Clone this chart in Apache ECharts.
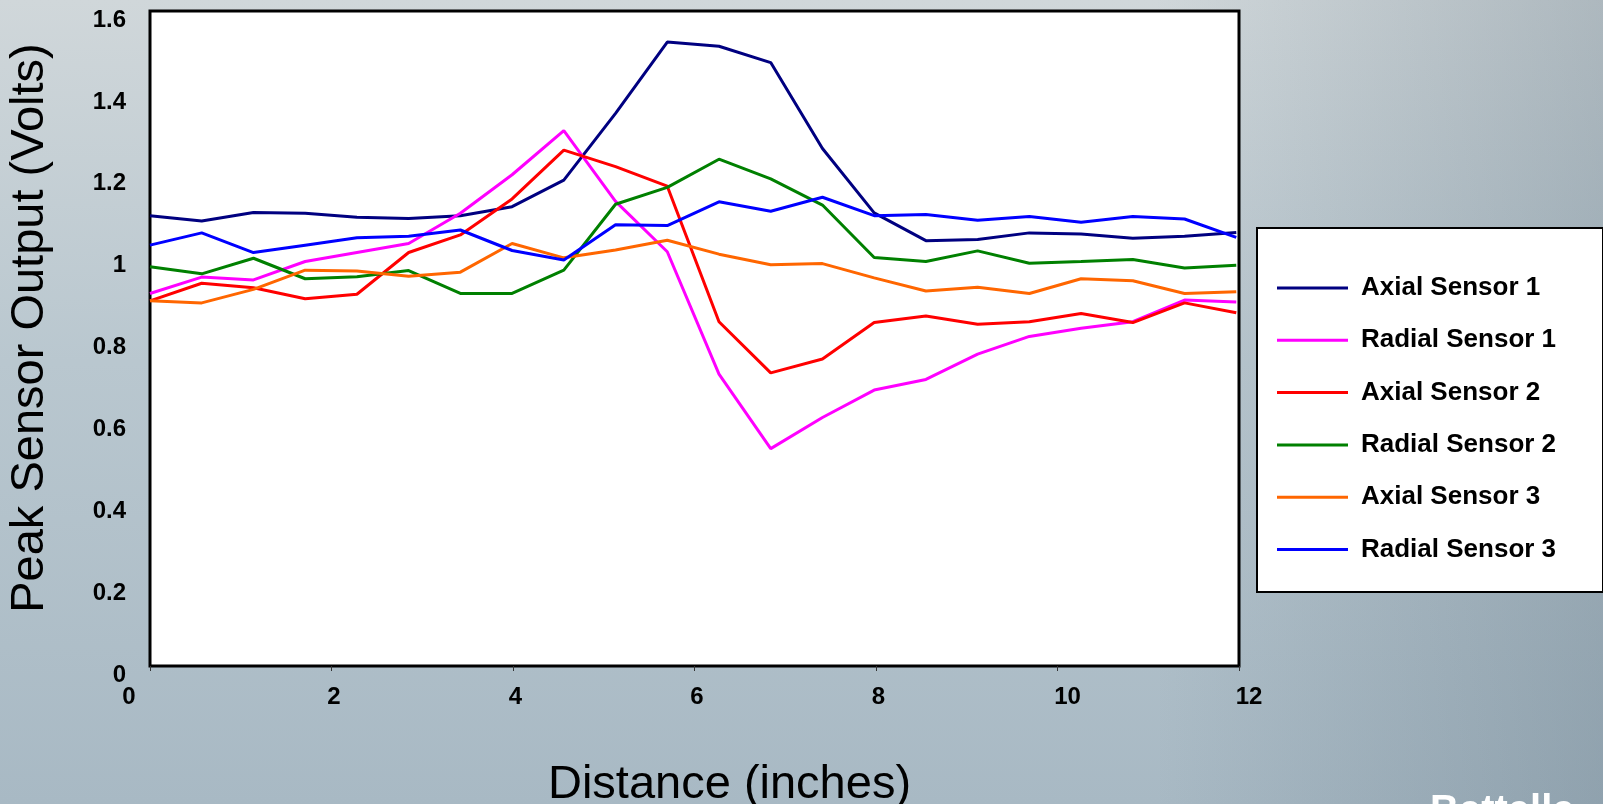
<!DOCTYPE html>
<html>
<head>
<meta charset="utf-8">
<script src="https://cdn.jsdelivr.net/npm/echarts@6/dist/echarts.min.js"></script>
<style>
  html, body { margin: 0; padding: 0; }
  body {
    width: 1603px; height: 804px; overflow: hidden;
    background:
      linear-gradient(to right, rgba(255,255,255,0) 72%, rgba(70,92,108,0.25) 100%),
      linear-gradient(to bottom, #d0d7da 0%, #b9c7cf 45%, #a8b9c4 100%);
  }
  #chart { width: 1603px; height: 804px; }
</style>
</head>
<body>
<div id="chart"></div>
<script>
const FONT = 'Arial, "Liberation Sans", sans-serif';

// distance along the specimen (inches)
const distance = [0, 0.57, 1.14, 1.71, 2.28, 2.85, 3.42, 3.99, 4.56, 5.13, 5.70,
                  6.27, 6.84, 7.41, 7.98, 8.55, 9.12, 9.69, 10.26, 10.83, 11.40, 11.97];

const seriesNames = ['Axial Sensor 1', 'Radial Sensor 1', 'Axial Sensor 2',
                     'Radial Sensor 2', 'Axial Sensor 3', 'Radial Sensor 3'];
const seriesColors = ['#000080', '#ff00ff', '#ff0000', '#008000', '#ff6600', '#0000ff'];

const axial1 = [1.100, 1.087, 1.108, 1.106, 1.096, 1.093, 1.100, 1.122, 1.187, 1.350, 1.524,
                1.514, 1.474, 1.264, 1.107, 1.039, 1.042, 1.058, 1.055, 1.045, 1.050, 1.059];
const radial1 = [0.910, 0.950, 0.943, 0.988, 1.010, 1.032, 1.106, 1.200, 1.308, 1.135, 1.012,
                 0.713, 0.531, 0.607, 0.674, 0.700, 0.762, 0.805, 0.825, 0.841, 0.894, 0.889];
const axial2 = [0.892, 0.935, 0.924, 0.897, 0.908, 1.010, 1.053, 1.141, 1.260, 1.220, 1.172,
                0.841, 0.716, 0.750, 0.839, 0.855, 0.835, 0.841, 0.861, 0.839, 0.887, 0.863];
const radial2 = [0.975, 0.958, 0.996, 0.946, 0.951, 0.966, 0.910, 0.910, 0.967, 1.128, 1.169,
                 1.238, 1.190, 1.126, 0.998, 0.988, 1.014, 0.984, 0.988, 0.993, 0.972, 0.979];
const axial3 = [0.892, 0.887, 0.920, 0.967, 0.965, 0.952, 0.962, 1.032, 0.997, 1.016, 1.040,
                1.006, 0.980, 0.983, 0.948, 0.916, 0.925, 0.910, 0.946, 0.941, 0.910, 0.914];
const radial3 = [1.028, 1.058, 1.010, 1.028, 1.046, 1.050, 1.065, 1.015, 0.992, 1.078, 1.076,
                 1.134, 1.111, 1.145, 1.100, 1.103, 1.089, 1.098, 1.084, 1.098, 1.092, 1.047];

const xTicks = ['0', '2', '4', '6', '8', '10', '12'];
const yTicks = ['0', '0.2', '0.4', '0.6', '0.8', '1', '1.2', '1.4', '1.6'];

const seriesValues = [axial1, radial1, axial2, radial2, axial3, radial3];

// the original labels sit a little off their ticks
const xLabelStyle = ['zero', 'near', 'near', 'near', 'near', 'far', 'far'];
const labelText = { fontSize: 24, fontWeight: 'bold', color: '#000', fontFamily: FONT };

const chart = echarts.init(document.getElementById('chart'));

chart.setOption({
  animation: false,
  backgroundColor: 'transparent',
  textStyle: { fontFamily: FONT },
  grid: {
    left: 150, top: 11, right: 364, bottom: 138,
    outerBoundsMode: 'none', containLabel: false,
    show: true, backgroundColor: '#ffffff', borderColor: '#000000', borderWidth: 3
  },
  xAxis: {
    type: 'value', min: 0, max: 12, interval: 2,
    name: 'Distance (inches)',
    nameLocation: 'middle', nameGap: 96,
    nameTextStyle: { fontSize: 47, color: '#000', fontFamily: FONT, padding: [0, 0, 0, 70] },
    axisLine: { show: false },
    axisTick: { show: true, length: 5, lineStyle: { color: '#333', width: 1 } },
    splitLine: { show: false },
    axisLabel: {
      margin: 19, ...labelText,
      formatter: (v) => {
        const i = Math.round(v / 2);
        return '{' + xLabelStyle[i] + '|' + xTicks[i] + '}';
      },
      rich: {
        zero: { ...labelText, padding: [0, 42, 0, 0] },
        near: { ...labelText, padding: [0, 0, 0, 5] },
        far: { ...labelText, padding: [0, 0, 0, 20] }
      }
    }
  },
  yAxis: {
    type: 'value', min: 0, max: 1.6, interval: 0.2,
    name: 'Peak Sensor Output (Volts)',
    nameLocation: 'middle', nameGap: 96,
    nameTextStyle: { fontSize: 47, color: '#000', fontFamily: FONT, padding: [0, 0, 0, 21] },
    axisLine: { show: false },
    axisTick: { show: false },
    splitLine: { show: false },
    axisLabel: {
      margin: 24, ...labelText,
      verticalAlign: 'top', lineHeight: 18,
      formatter: (v) => yTicks[Math.round(v * 5)]
    }
  },
  legend: {
    orient: 'vertical', left: 1277, top: 273, padding: 0,
    itemWidth: 71, itemHeight: 3, itemGap: 22.3, icon: 'rect',
    data: seriesNames,
    textStyle: { fontSize: 26, fontWeight: 'bold', color: '#000', fontFamily: FONT,
                 lineHeight: 30, padding: [0, 0, 0, 8] }
  },
  graphic: [
    {
      type: 'rect', z: 0, left: 1256, top: 227,
      shape: { width: 346, height: 364 },
      style: { fill: '#ffffff', stroke: '#000000', lineWidth: 2 }
    },
    {
      type: 'text', left: 1430, top: 792, z: 0,
      style: { text: 'Battelle', fill: '#ffffff', font: 'bold 40px ' + FONT }
    }
  ],
  series: seriesNames.map((name, k) => ({
    name: name,
    type: 'line',
    symbol: 'none',
    color: seriesColors[k],
    lineStyle: { width: 3, color: seriesColors[k] },
    data: distance.map((d, i) => [d, seriesValues[k][i]])
  }))
});

window.addEventListener('resize', () => chart.resize());
</script>
</body>
</html>
